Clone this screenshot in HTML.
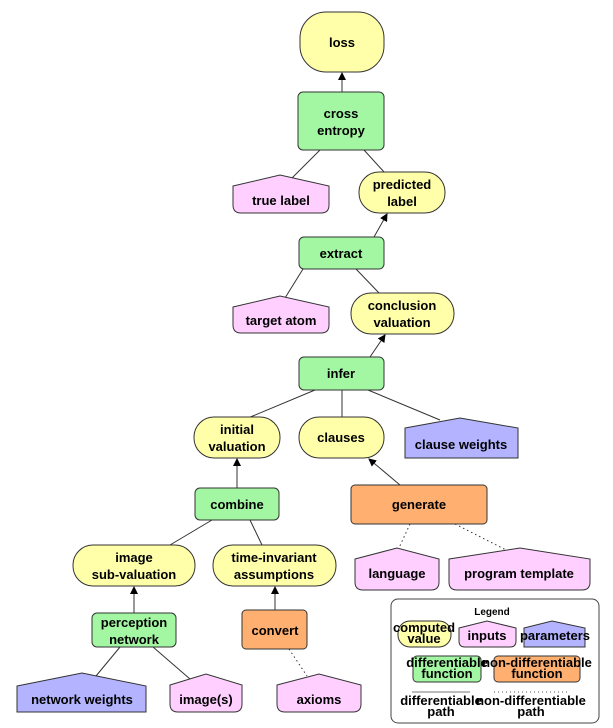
<!DOCTYPE html><html><head><style>body{margin:0;background:#fff}svg{display:block}text{font-family:"Liberation Sans",sans-serif;font-weight:bold;font-size:13px;text-anchor:middle;fill:#000}</style></head><body>
<svg width="613" height="728" viewBox="0 0 613 728" xmlns="http://www.w3.org/2000/svg">
<defs><marker id="a" markerWidth="8" markerHeight="8" refX="7" refY="4" orient="auto" markerUnits="userSpaceOnUse"><path d="M0,0 L8,4 L0,8z" fill="#000"/></marker></defs>
<g stroke="#333" stroke-width="1" fill="none">
<line x1="342" y1="92" x2="342" y2="73" marker-end="url(#a)"/>
<line x1="320" y1="150" x2="290" y2="180"/><line x1="364" y1="150" x2="385" y2="173"/>
<line x1="374" y1="237" x2="387" y2="214" marker-end="url(#a)"/>
<line x1="303" y1="269" x2="285" y2="298"/><line x1="356" y1="269" x2="380" y2="294"/>
<line x1="370" y1="357" x2="385" y2="335" marker-end="url(#a)"/>
<line x1="315" y1="390" x2="248" y2="418"/><line x1="342" y1="390" x2="342" y2="417"/><line x1="368" y1="390" x2="440" y2="420"/>
<line x1="237" y1="488" x2="237" y2="459" marker-end="url(#a)"/>
<line x1="212" y1="520" x2="170" y2="545"/><line x1="250" y1="520" x2="262" y2="545"/>
<line x1="400" y1="485" x2="369" y2="459" marker-end="url(#a)"/>
<line x1="410" y1="524" x2="398" y2="550" stroke-dasharray="1.5,3"/><line x1="455" y1="524" x2="510" y2="552" stroke-dasharray="1.5,3"/>
<line x1="134" y1="613" x2="134" y2="587" marker-end="url(#a)"/>
<line x1="120" y1="647" x2="96" y2="676"/><line x1="153" y1="647" x2="190" y2="679"/>
<line x1="275" y1="610" x2="275" y2="587" marker-end="url(#a)"/>
<line x1="289" y1="649" x2="307" y2="676" stroke-dasharray="1.5,3"/>
</g>
<g stroke="#333" stroke-width="1">
<!-- yellow -->
<g fill="#ffffaa">
<rect x="300" y="12" width="84" height="60" rx="26"/>
<rect x="359" y="172" width="86" height="41" rx="20"/>
<rect x="351" y="293" width="103" height="41" rx="20"/>
<rect x="194" y="417" width="86" height="41" rx="20"/>
<rect x="299" y="417" width="85" height="41" rx="20"/>
<rect x="73" y="545" width="122" height="41" rx="20"/>
<rect x="213" y="545" width="123" height="41" rx="20"/>
</g>
<g fill="#a3f7a3">
<rect x="298" y="92" width="86" height="58" rx="5"/>
<rect x="299" y="237" width="85" height="32" rx="5"/>
<rect x="299" y="357" width="85" height="33" rx="5"/>
<rect x="195" y="488" width="84" height="32" rx="5"/>
<rect x="92" y="613" width="84" height="34" rx="5"/>
</g>
<g fill="#ffb070">
<rect x="351" y="485" width="136" height="39" rx="4"/>
<rect x="242" y="610" width="65" height="39" rx="4"/>
</g>
<g fill="#ffd0ff">
<path d="M233,186 L280,175 L329,186 L329,205 Q329,213 321,213 L241,213 Q233,213 233,205Z"/>
<path d="M233,307 L280,296 L329,307 L329,325 Q329,333 321,333 L241,333 Q233,333 233,325Z"/>
<path d="M355,559 L397,548 L439,559 L439,582 Q439,590 431,590 L363,590 Q355,590 355,582Z"/>
<path d="M449,559 L520,548 L590,559 L590,582 Q590,590 582,590 L457,590 Q449,590 449,582Z"/>
<path d="M170,685 L206,674 L242,685 L242,704 Q242,712 234,712 L178,712 Q170,712 170,704Z"/>
<path d="M277,685 L319,674 L361,685 L361,704 Q361,712 353,712 L285,712 Q277,712 277,704Z"/>
</g>
<g fill="#b3b3ff">
<path d="M405,428 L460,418 L518,428 L518,458 L405,458Z"/>
<path d="M17,686 L82,673 L146,686 L146,712 L17,712Z"/>
</g>
</g>
<text x="342" y="47">loss</text>
<text x="341" y="118">cross</text><text x="341" y="135">entropy</text>
<text x="281" y="205">true label</text>
<text x="402" y="189">predicted</text><text x="402" y="206">label</text>
<text x="341" y="258">extract</text>
<text x="281" y="325">target atom</text>
<text x="402" y="310">conclusion</text><text x="402" y="327">valuation</text>
<text x="341" y="378">infer</text>
<text x="237" y="434">initial</text><text x="237" y="451">valuation</text>
<text x="341" y="442">clauses</text>
<text x="461" y="449">clause weights</text>
<text x="237" y="509">combine</text>
<text x="419" y="509">generate</text>
<text x="134" y="562">image</text><text x="134" y="579">sub-valuation</text>
<text x="274" y="562">time-invariant</text><text x="274" y="579">assumptions</text>
<text x="397" y="578">language</text>
<text x="519" y="578">program template</text>
<text x="134" y="627">perception</text><text x="134" y="644">network</text>
<text x="275" y="635">convert</text>
<text x="82" y="704">network weights</text>
<text x="206" y="704">image(s)</text>
<text x="319" y="704">axioms</text>
<!-- legend -->
<rect x="391" y="599" width="208" height="124" rx="7" fill="#fff" stroke="#444"/>
<g style="font-size:9px">
<text x="492" y="615" style="font-size:10px">Legend</text>
<rect x="398" y="621" width="53" height="26" rx="12" fill="#ffffaa" stroke="#333"/>
<text x="424" y="632">computed</text><text x="424" y="643">value</text>
<path d="M459,628 L487,621 L516,628 L516,641 Q516,647 510,647 L465,647 Q459,647 459,641Z" fill="#ffd0ff" stroke="#333"/>
<text x="487" y="640">inputs</text>
<path d="M524,628 L552,621 L585,628 L585,647 L524,647Z" fill="#b3b3ff" stroke="#333"/>
<text x="555" y="640">parameters</text>
<rect x="413" y="656" width="68" height="26" rx="4" fill="#a3f7a3" stroke="#333"/>
<text x="447" y="667">differentiable</text><text x="447" y="678">function</text>
<rect x="494" y="656" width="86" height="26" rx="4" fill="#ffb070" stroke="#333"/>
<text x="537" y="667">non-differentiable</text><text x="537" y="678">function</text>
<line x1="412" y1="692" x2="470" y2="692" stroke="#777" stroke-width="1"/>
<line x1="494" y1="692" x2="570" y2="692" stroke="#555" stroke-dasharray="1,3"/>
<text x="441" y="705">differentiable</text><text x="441" y="716">path</text>
<text x="531" y="705">non-differentiable</text><text x="531" y="716">path</text>
</g>
</svg></body></html>
